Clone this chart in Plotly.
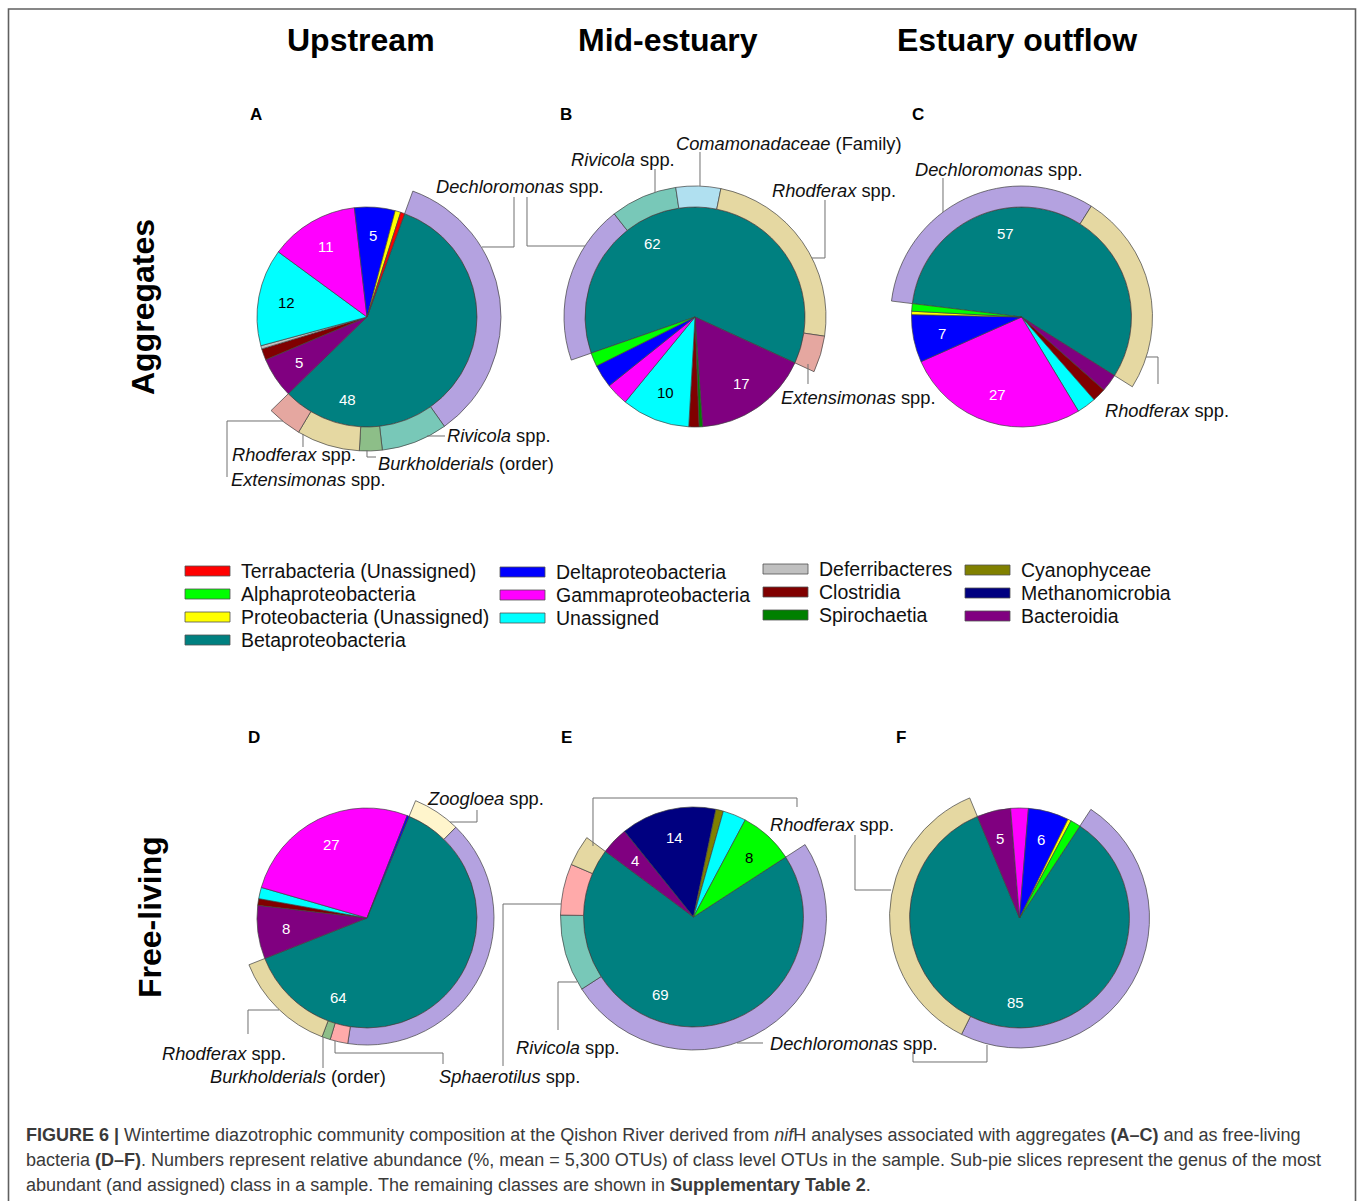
import math
import plotly.graph_objects as go

W, H = 1358, 1201
FONT = "Liberation Sans, Arial, Helvetica, sans-serif"

# ---------------------------------------------------------------- colours
CLASS_COLORS = {
    "Terrabacteria (Unassigned)": "#FF0000",
    "Alphaproteobacteria": "#00FF00",
    "Proteobacteria (Unassigned)": "#FFFF00",
    "Betaproteobacteria": "#008080",
    "Deltaproteobacteria": "#0000FF",
    "Gammaproteobacteria": "#FF00FF",
    "Unassigned": "#00FFFF",
    "Deferribacteres": "#C0C0C0",
    "Clostridia": "#800000",
    "Spirochaetia": "#008000",
    "Cyanophyceae": "#808000",
    "Methanomicrobia": "#000080",
    "Bacteroidia": "#800080",
}
GENUS_COLORS = {
    "Dechloromonas": "#B4A2E0",
    "Rivicola": "#78C8B8",
    "Burkholderials": "#8DBE88",
    "Rhodoferax": "#E5D8A2",
    "Extensimonas": "#E5A7A0",
    "Comamonadaceae": "#B0E0F0",
    "Zoogloea": "#FFF5CC",
    "Sphaerotilus": "#FFAAAA",
}

# ---------------------------------------------------------------- data
# class composition of each sample (%), listed clockwise from Betaproteobacteria
A_classes = ["Betaproteobacteria", "Bacteroidia", "Clostridia", "Deferribacteres", "Unassigned",
             "Gammaproteobacteria", "Deltaproteobacteria", "Proteobacteria (Unassigned)",
             "Terrabacteria (Unassigned)"]
A_values = [48, 5, 1.4, 0.4, 12, 11, 5, 0.7, 0.5]
A_genera = ["Dechloromonas", "Rivicola", "Burkholderials", "Rhodoferax", "Extensimonas"]
A_genus_values = [29.1, 6.7, 2.3, 6.4, 3.5]

B_classes = ["Betaproteobacteria", "Bacteroidia", "Spirochaetia", "Clostridia", "Unassigned",
             "Gammaproteobacteria", "Deltaproteobacteria", "Alphaproteobacteria"]
B_values = [62, 17, 0.5, 1.5, 10, 3.3, 3.4, 2]
B_genera = ["Dechloromonas", "Rivicola", "Comamonadaceae", "Rhodoferax", "Extensimonas"]
B_genus_values = [19.7, 8.2, 5.5, 24.1, 4.5]

C_classes = ["Betaproteobacteria", "Bacteroidia", "Clostridia", "Unassigned", "Gammaproteobacteria",
             "Deltaproteobacteria", "Proteobacteria (Unassigned)", "Alphaproteobacteria"]
C_values = [57, 2.6, 2, 2.8, 27, 7, 0.5, 1.1]
C_genera = ["Dechloromonas", "Rhodoferax"]
C_genus_values = [32, 25]

D_classes = ["Betaproteobacteria", "Bacteroidia", "Clostridia", "Unassigned", "Gammaproteobacteria",
             "Deltaproteobacteria"]
D_values = [64, 8, 1, 1.7, 27, 0.3]
D_genera = ["Zoogloea", "Dechloromonas", "Sphaerotilus", "Burkholderials", "Rhodoferax"]
D_genus_values = [6.2, 40.9, 2.3, 1.1, 13.5]

E_classes = ["Betaproteobacteria", "Bacteroidia", "Methanomicrobia", "Cyanophyceae", "Unassigned",
             "Alphaproteobacteria"]
E_values = [69, 4, 14, 1.1, 3.4, 8]
E_genera = ["Dechloromonas", "Rivicola", "Sphaerotilus", "Rhodoferax"]
E_genus_values = [49.8, 9.3, 6.2, 3.7]

F_classes = ["Betaproteobacteria", "Bacteroidia", "Gammaproteobacteria", "Deltaproteobacteria",
             "Proteobacteria (Unassigned)", "Alphaproteobacteria"]
F_values = [85, 5, 2.6, 6, 0.5, 1.5]
F_genera = ["Dechloromonas", "Rhodoferax"]
F_genus_values = [48.4, 36.6]

LABEL_MIN = 4  # classes at or above this share get their number printed

# ---------------------------------------------------------------- layout of panels (pixels)
PANELS = [
    dict(tag="A", classes=A_classes, values=A_values, genera=A_genera, gvalues=A_genus_values,
         cx=367, cy=317, r=110, R=134, rot=20, beta_ang=193),
    dict(tag="B", classes=B_classes, values=B_values, genera=B_genera, gvalues=B_genus_values,
         cx=695, cy=317, r=110, R=131, rot=250.8, beta_ang=330),
    dict(tag="C", classes=C_classes, values=C_values, genera=C_genera, gvalues=C_genus_values,
         cx=1021.5, cy=317, r=110, R=131, rot=277, beta_ang=349),
    dict(tag="D", classes=D_classes, values=D_values, genera=D_genera, gvalues=D_genus_values,
         cx=367, cy=918, r=110, R=127, rot=22.5, beta_ang=200),
    dict(tag="E", classes=E_classes, values=E_values, genera=E_genera, gvalues=E_genus_values,
         cx=693.5, cy=917, r=110, R=133, rot=57, beta_ang=203),
    dict(tag="F", classes=F_classes, values=F_values, genera=F_genera, gvalues=F_genus_values,
         cx=1019.5, cy=918, r=110, R=130, rot=33.3, beta_ang=183),
]
PANEL_LETTERS = [("A", 256, 114), ("B", 566, 114), ("C", 918, 114),
                 ("D", 254, 737), ("E", 566, 737), ("F", 901, 737)]

EDGE = "#404040"


def fx(x):
    return x / W


def fy(y):
    return 1 - y / H


def wrap(a):
    return ((a + 180) % 360) - 180


def dom(cx, cy, rad):
    return dict(x=[fx(cx - rad), fx(cx + rad)], y=[fy(cy + rad), fy(cy - rad)])


fig = go.Figure()
annotations = []
shapes = []

for p in PANELS:
    cls, vals = p["classes"], p["values"]
    # class pie
    fig.add_trace(go.Pie(
        labels=cls, values=vals, sort=False, direction="clockwise", rotation=wrap(p["rot"]),
        marker=dict(colors=[CLASS_COLORS[c] for c in cls], line=dict(color=EDGE, width=0.7)),
        domain=dom(p["cx"], p["cy"], p["r"]), textinfo="none", showlegend=False,
        hoverinfo="label+value", name=p["tag"],
    ))
    # genus ring around the Betaproteobacteria slice
    rest = sum(vals) - vals[0]
    ring_vals = list(p["gvalues"]) + [rest]
    ring_labels = list(p["genera"]) + ["other classes"]
    ring_cols = [GENUS_COLORS[g] for g in p["genera"]] + ["rgba(0,0,0,0)"]
    ring_w = [0.7] * len(p["genera"]) + [0]
    fig.add_trace(go.Pie(
        labels=ring_labels, values=ring_vals, sort=False, direction="clockwise",
        rotation=wrap(p["rot"]), hole=p["r"] / p["R"],
        marker=dict(colors=ring_cols, line=dict(color=EDGE, width=ring_w)),
        domain=dom(p["cx"], p["cy"], p["R"]), textinfo="none", showlegend=False,
        hoverinfo="label+value", name=p["tag"] + " genera",
    ))
    # value labels
    total = sum(vals)
    cum = 0.0
    for c, v in zip(cls, vals):
        start = p["rot"] + 360 * cum / total
        span = 360 * v / total
        cum += v
        if v < LABEL_MIN:
            continue
        if c == "Betaproteobacteria":
            ang, rr = p["beta_ang"], 0.77 * p["r"]
        else:
            ang, rr = start + span / 2, 0.74 * p["r"]
        x = p["cx"] + rr * math.sin(math.radians(ang))
        y = p["cy"] - rr * math.cos(math.radians(ang))
        col = "#000000" if c in ("Unassigned", "Alphaproteobacteria") else "#FFFFFF"
        annotations.append(dict(x=fx(x), y=fy(y), xref="paper", yref="paper", text=f"{v:g}",
                                showarrow=False, xanchor="center", yanchor="middle",
                                font=dict(family=FONT, size=15, color=col)))

# ---------------------------------------------------------------- genus captions and leader lines
GENUS_TEXT = [
    ("<i>Dechloromonas</i> spp.", 434, 187),
    ("<i>Rivicola</i> spp.", 569, 160),
    ("<i>Comamonadaceae</i> (Family)", 674, 143),
    ("<i>Rhodferax</i> spp.", 770, 191),
    ("<i>Extensimonas</i> spp.", 779, 397),
    ("<i>Dechloromonas</i> spp.", 913, 169),
    ("<i>Rhodferax</i> spp.", 1103, 410),
    ("<i>Rivicola</i> spp.", 445, 436),
    ("<i>Rhodferax</i> spp.", 230, 455),
    ("<i>Burkholderials</i> (order)", 376, 463),
    ("<i>Extensimonas</i> spp.", 229, 479),
    ("<i>Zoogloea</i> spp.", 425, 798),
    ("<i>Rhodferax</i> spp.", 768, 824),
    ("<i>Rhodferax</i> spp.", 160, 1053),
    ("<i>Burkholderials</i> (order)", 208, 1076),
    ("<i>Rivicola</i> spp.", 514, 1047),
    ("<i>Sphaerotilus</i> spp.", 437, 1076),
    ("<i>Dechloromonas</i> spp.", 768, 1043),
]
for t, x, y in GENUS_TEXT:
    annotations.append(dict(x=fx(x), y=fy(y), xref="paper", yref="paper", text=t, showarrow=False,
                            xanchor="left", yanchor="middle",
                            font=dict(family=FONT, size=18.3, color="#111111")))

LEADERS = [
    [(482, 247), (514, 247), (514, 197)],
    [(527, 197), (527, 246), (585, 246)],
    [(655, 192), (655, 169)],
    [(700, 186), (700, 152)],
    [(812, 258), (825, 258), (825, 200)],
    [(808, 364), (808, 384)],
    [(943, 212), (943, 178)],
    [(1146, 357), (1158, 357), (1158, 384)],
    [(427, 436), (445, 436)],
    [(367, 450), (367, 457), (376, 457)],
    [(303, 434), (303, 447)],
    [(283, 421), (227, 421), (227, 477)],
    [(450, 822), (477, 822), (477, 810)],
    [(279, 1010), (248, 1010), (248, 1034)],
    [(323, 1037), (323, 1068)],
    [(335, 1041), (335, 1053), (443, 1053), (443, 1064)],
    [(561, 904), (503, 904), (503, 1066)],
    [(577, 982), (558, 982), (558, 1030)],
    [(593, 846), (593, 798), (797, 798), (797, 807)],
    [(891, 890), (855, 890), (855, 835)],
    [(737, 1043), (763, 1043)],
    [(913, 1052), (913, 1062), (987, 1062), (987, 1045)],
]
for pts in LEADERS:
    path = "M " + " L ".join(f"{fx(x):.5f},{fy(y):.5f}" for x, y in pts)
    shapes.append(dict(type="path", path=path, xref="paper", yref="paper",
                       line=dict(color="#707070", width=1), layer="above"))

# ---------------------------------------------------------------- headers
for t, x in [("Upstream", 361), ("Mid-estuary", 668), ("Estuary outflow", 1017)]:
    annotations.append(dict(x=fx(x), y=fy(40), xref="paper", yref="paper", text=f"<b>{t}</b>",
                            showarrow=False, xanchor="center", yanchor="middle",
                            font=dict(family=FONT, size=32, color="#000000")))
for t, x, y in [("Aggregates", 143, 307), ("Free-living", 150, 917)]:
    annotations.append(dict(x=fx(x), y=fy(y), xref="paper", yref="paper", text=f"<b>{t}</b>",
                            showarrow=False, xanchor="center", yanchor="middle", textangle=-90,
                            font=dict(family=FONT, size=32, color="#000000")))
for t, x, y in PANEL_LETTERS:
    annotations.append(dict(x=fx(x), y=fy(y), xref="paper", yref="paper", text=f"<b>{t}</b>",
                            showarrow=False, xanchor="center", yanchor="middle",
                            font=dict(family=FONT, size=17, color="#000000")))

# ---------------------------------------------------------------- class key
LEGEND_COLUMNS = [
    (185, [("Terrabacteria (Unassigned)", 571), ("Alphaproteobacteria", 594),
           ("Proteobacteria (Unassigned)", 617), ("Betaproteobacteria", 640)]),
    (500, [("Deltaproteobacteria", 572), ("Gammaproteobacteria", 595), ("Unassigned", 618)]),
    (763, [("Deferribacteres", 569), ("Clostridia", 592), ("Spirochaetia", 615)]),
    (965, [("Cyanophyceae", 570), ("Methanomicrobia", 593), ("Bacteroidia", 616)]),
]
for x0, items in LEGEND_COLUMNS:
    for name, y in items:
        shapes.append(dict(type="rect", xref="paper", yref="paper",
                           x0=fx(x0), x1=fx(x0 + 45), y0=fy(y + 5), y1=fy(y - 5),
                           fillcolor=CLASS_COLORS[name], line=dict(color="#505050", width=0.8)))
        annotations.append(dict(x=fx(x0 + 54), y=fy(y), xref="paper", yref="paper", text=name,
                                showarrow=False, xanchor="left", yanchor="middle",
                                font=dict(family=FONT, size=19.5, color="#111111")))

# ---------------------------------------------------------------- caption
CAPTION = [
    ("<b>FIGURE 6 |</b> Wintertime diazotrophic community composition at the Qishon River derived from "
     "<i>nif</i>H analyses associated with aggregates <b>(A–C)</b> and as free-living", 1135),
    ("bacteria <b>(D–F)</b>. Numbers represent relative abundance (%, mean = 5,300 OTUs) of class level "
     "OTUs in the sample. Sub-pie slices represent the genus of the most", 1160),
    ("abundant (and assigned) class in a sample. The remaining classes are shown in "
     "<b>Supplementary Table 2</b>.", 1185),
]
for t, y in CAPTION:
    annotations.append(dict(x=fx(24), y=fy(y), xref="paper", yref="paper", text=t, showarrow=False,
                            xanchor="left", yanchor="middle",
                            font=dict(family=FONT, size=18, color="#3a3a3a")))

# frame
shapes.append(dict(type="path", xref="paper", yref="paper",
                   path=f"M {fx(8.5)},{fy(1201)} L {fx(8.5)},{fy(9)} L {fx(1355.5)},{fy(9)} L {fx(1355.5)},{fy(1201)}",
                   line=dict(color="#606060", width=1.6)))

fig.update_layout(
    width=W, height=H, margin=dict(l=0, r=0, t=0, b=0),
    paper_bgcolor="white", plot_bgcolor="white",
    annotations=annotations, shapes=shapes, showlegend=False,
)
fig.write_html("out.html")
